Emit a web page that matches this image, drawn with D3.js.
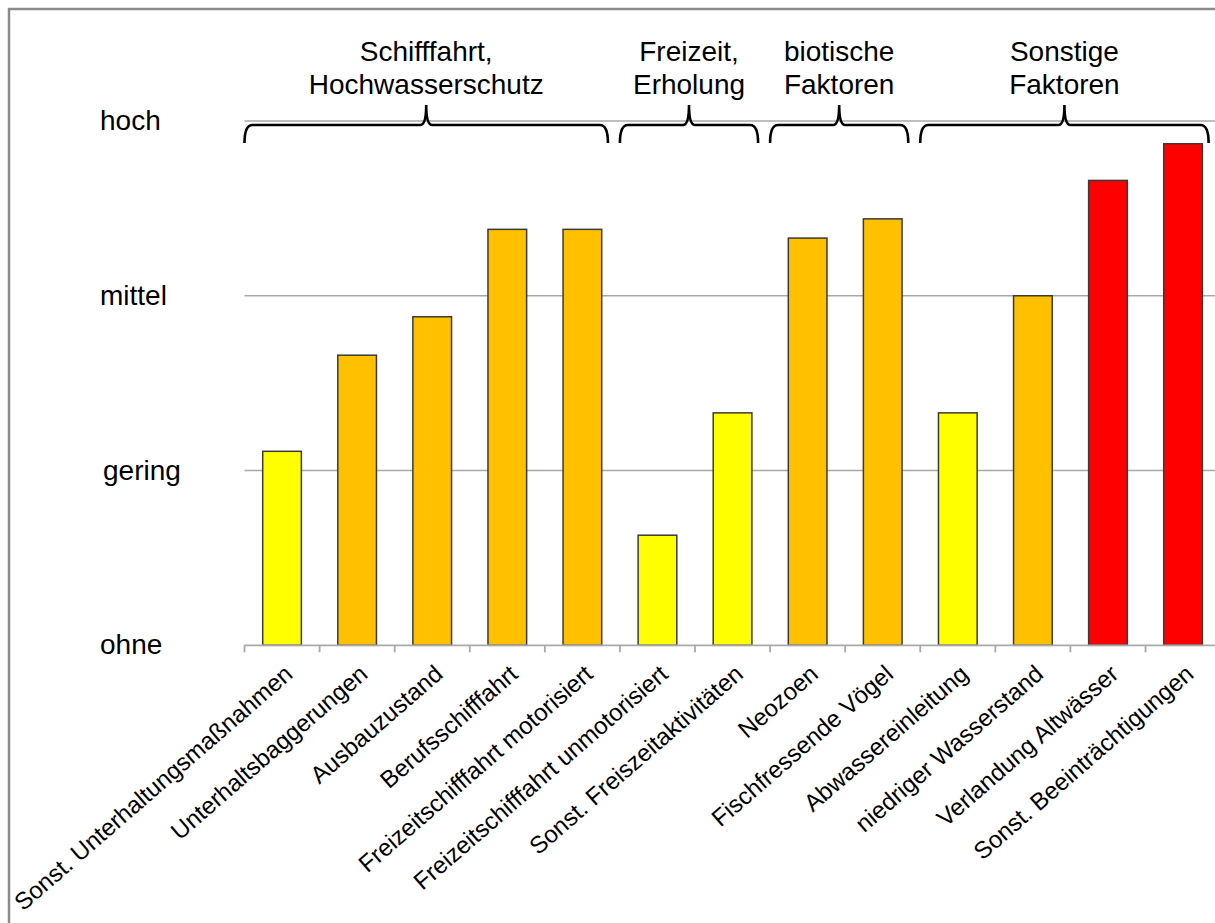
<!DOCTYPE html>
<html>
<head>
<meta charset="utf-8">
<script src="https://cdn.jsdelivr.net/npm/d3@7"></script>
<style>
  html, body { margin: 0; padding: 0; background: #fff; }
  svg { display: block; font-family: "Liberation Sans", Arial, sans-serif; }
</style>
</head>
<body>
<svg id="chart" width="1215" height="923"></svg>
<script>
// Beeinträchtigungen nach Faktor, Stufe 0 (ohne) bis 3 (hoch)
const categories = [
  "Sonst. Unterhaltungsmaßnahmen",
  "Unterhaltsbaggerungen",
  "Ausbauzustand",
  "Berufsschifffahrt",
  "Freizeitschifffahrt motorisiert",
  "Freizeitschifffahrt unmotorisiert",
  "Sonst. Freiszeitaktivitäten",
  "Neozoen",
  "Fischfressende Vögel",
  "Abwassereinleitung",
  "niedriger Wasserstand",
  "Verlandung Altwässer",
  "Sonst. Beeinträchtigungen"
];
const values = [1.11, 1.66, 1.88, 2.38, 2.38, 0.63, 1.33, 2.33, 2.44, 1.33, 2.0, 2.66, 2.87];

const levelLabels = ["ohne", "gering", "mittel", "hoch"];
const levelValues = [0, 1, 2, 3];

const groupLabels = [
  ["Schifffahrt,", "Hochwasserschutz"],
  ["Freizeit,", "Erholung"],
  ["biotische", "Faktoren"],
  ["Sonstige", "Faktoren"]
];
const groupFirst = [0, 5, 7, 9];
const groupLast = [4, 6, 8, 12];

const svg = d3.select("#chart");
const W = 1215, H = 923;

svg.append("rect").attr("width", W).attr("height", H).attr("fill", "#fff");

// outer chart frame (continues past the right and bottom edge)
svg.append("rect")
  .attr("x", 9).attr("y", 9)
  .attr("width", 1400).attr("height", 1100)
  .attr("fill", "none").attr("stroke", "#8a8a8a").attr("stroke-width", 2.5);

const x = d3.scaleBand().domain(categories).range([244.5, 1220.6]).padding(0);
const y = d3.scaleLinear().domain([0, 3]).range([645.3, 121]);
const barW = x.bandwidth() * 0.515;

const color = d3.scaleThreshold()
  .domain([1.5, 2.5])
  .range(["#FFFF00", "#FFC000", "#FF0000"]);

// gridlines
svg.append("g").selectAll("line")
  .data(levelValues.filter(v => v > 0))
  .join("line")
  .attr("x1", x.range()[0]).attr("x2", x.range()[1])
  .attr("y1", d => y(d)).attr("y2", d => y(d))
  .attr("stroke", "#a9a9a9").attr("stroke-width", 1.6);

// level labels
svg.append("g").selectAll("text")
  .data(levelValues)
  .join("text")
  .attr("x", (d, i) => i === 1 ? 103 : 100)
  .attr("y", d => y(d) + 9)
  .attr("font-size", 28)
  .attr("fill", "#000")
  .text((d, i) => levelLabels[i]);

// bars
svg.append("g").selectAll("rect")
  .data(categories)
  .join("rect")
  .attr("x", d => x(d) + (x.bandwidth() - barW) / 2)
  .attr("width", barW)
  .attr("y", (d, i) => y(values[i]))
  .attr("height", (d, i) => y(0) - y(values[i]))
  .attr("fill", (d, i) => color(values[i]))
  .attr("stroke", "#3a3a3a").attr("stroke-width", 1.5);

// category axis with boundary ticks
const axis = svg.append("g");
axis.append("line")
  .attr("x1", x.range()[0]).attr("x2", x.range()[1])
  .attr("y1", y(0)).attr("y2", y(0))
  .attr("stroke", "#a9a9a9").attr("stroke-width", 1.8);
axis.selectAll("line.tick")
  .data(categories.map(c => x(c)).concat([x.range()[1]]))
  .join("line")
  .attr("class", "tick")
  .attr("x1", d => d).attr("x2", d => d)
  .attr("y1", y(0)).attr("y2", y(0) + 7)
  .attr("stroke", "#a9a9a9").attr("stroke-width", 1.8);

axis.selectAll("text")
  .data(categories)
  .join("text")
  .attr("transform", d => `translate(${x(d) + x.bandwidth() / 2 + 12},${y(0) + 31}) rotate(-41)`)
  .attr("text-anchor", "end")
  .attr("font-size", 24)
  .attr("fill", "#000")
  .text(d => d);

// group braces with headings
const braces = svg.append("g");
groupLabels.forEach((lines, g) => {
  const x0 = x(categories[groupFirst[g]]);
  const x1 = x(categories[groupLast[g]]) + x.bandwidth() - 12;
  const mid = (x0 + x1) / 2;
  const yb = 125, yEnd = 143, yTip = 105;
  const p = d3.path();
  p.moveTo(x0, yEnd);
  p.quadraticCurveTo(x0, yb, x0 + 8, yb);
  p.lineTo(mid - 6, yb);
  p.quadraticCurveTo(mid, yb, mid, yTip);
  p.quadraticCurveTo(mid, yb, mid + 6, yb);
  p.lineTo(x1 - 8, yb);
  p.quadraticCurveTo(x1, yb, x1, yEnd);
  braces.append("path")
    .attr("d", p.toString())
    .attr("fill", "none").attr("stroke", "#000").attr("stroke-width", 2.6);

  braces.append("text")
    .attr("x", mid).attr("text-anchor", "middle")
    .attr("font-size", 28).attr("fill", "#000")
    .selectAll("tspan")
    .data(lines)
    .join("tspan")
    .attr("x", mid)
    .attr("y", (d, i) => 60.5 + i * 33.5)
    .text(d => d);
});
</script>
</body>
</html>
